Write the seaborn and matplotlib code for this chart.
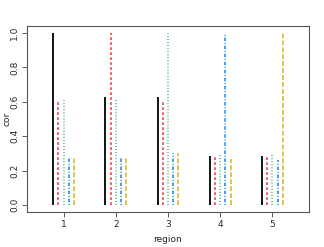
import numpy as np
import pandas as pd
import matplotlib
matplotlib.use("Agg")
import matplotlib.pyplot as plt
import seaborn as sns

# correlation of each region's series with the others
regions = [1, 2, 3, 4, 5]
series = ["s1", "s2", "s3", "s4", "s5"]
cor_s1 = [1.00, 0.63, 0.63, 0.285, 0.285]
cor_s2 = [0.61, 1.00, 0.61, 0.28, 0.28]
cor_s3 = [0.615, 0.615, 1.00, 0.30, 0.30]
cor_s4 = [0.275, 0.275, 0.305, 0.99, 0.26]
cor_s5 = [0.275, 0.275, 0.305, 0.27, 1.00]

colors = ["#000000", "#EE5566", "#55BB88", "#3399EE", "#E0C040"]
styles = ["-", (0, (2, 1.6)), (0, (0.7, 1.5)), (0, (0.7, 1.3, 2.5, 1.3)), (0, (3.5, 1.5))]

sns.set_style("white")
plt.rcParams["font.family"] = ["DejaVu Sans"]
plt.rcParams["lines.scale_dashes"] = False

df = pd.DataFrame({"region": regions, "s1": cor_s1, "s2": cor_s2, "s3": cor_s3,
                   "s4": cor_s4, "s5": cor_s5})
long = df.melt(id_vars="region", var_name="series", value_name="cor")

fig = plt.figure(figsize=(3.24, 2.47), dpi=100)
ax = fig.add_axes([0.0833, 0.1417, 0.8704, 0.753])

for j, s in enumerate(series):
    sub = long[long["series"] == s]
    xs = sub["region"] + (j - 2) * 0.1
    ax.vlines(xs, 0, sub["cor"], color=colors[j], linestyle=styles[j], lw=1.3)

ax.set_xlim(0.3, 5.7)
ax.set_ylim(-0.04, 1.04)
ax.set_xticks(regions)
ax.set_yticks([0.0, 0.2, 0.4, 0.6, 0.8, 1.0])
ax.set_yticklabels(["0.0", "0.2", "0.4", "0.6", "0.8", "1.0"], rotation=90, va="center")
ax.tick_params(axis="both", direction="out", length=3.5, width=0.6, color="#444444",
               labelsize=6.5, pad=2, left=True, bottom=True)
for sp in ax.spines.values():
    sp.set_color("#555555")
    sp.set_linewidth(0.8)
ax.set_xlabel("region", fontsize=6.5)
ax.set_ylabel("cor", fontsize=6.5)
ax.xaxis.set_label_coords(0.5, -0.125)
ax.yaxis.set_label_coords(-0.055, 0.5)

fig.savefig("out.png", dpi=100)
